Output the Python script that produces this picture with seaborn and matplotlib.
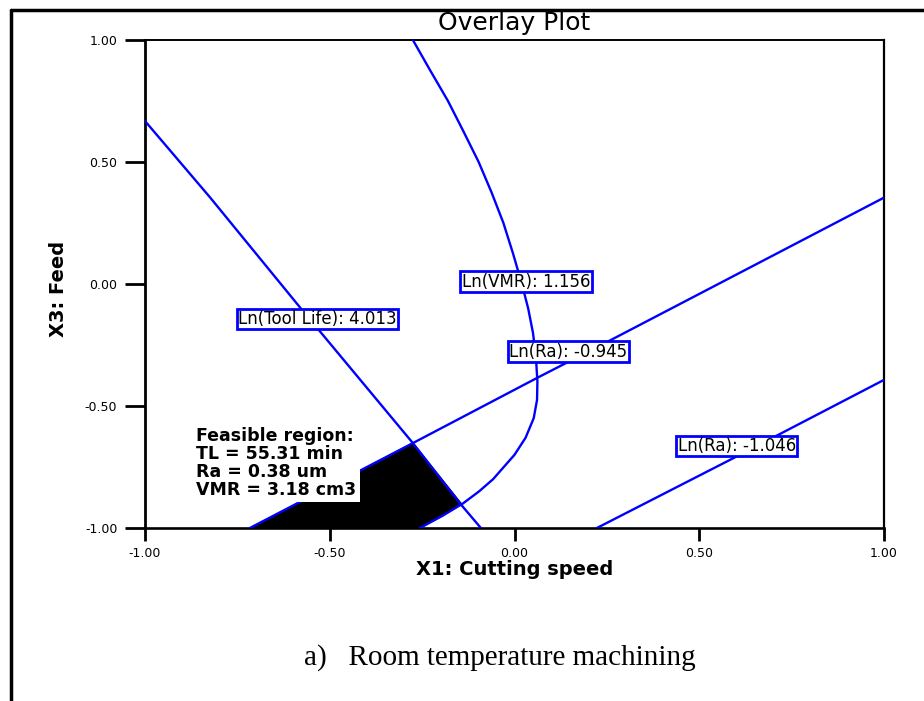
import matplotlib
matplotlib.use("Agg")
import matplotlib.pyplot as plt
import seaborn as sns
from matplotlib.lines import Line2D

# contour lines (coded units)
tool_life_x = [-1.0, -0.824, -0.581, -0.275, -0.147, -0.091]
tool_life_y = [0.668, 0.355, -0.095, -0.652, -0.900, -1.0]

vmr_x = [-0.275, -0.228, -0.180, -0.138, -0.097, -0.062, -0.030, -0.004, 0.020,
         0.037, 0.050, 0.058, 0.062, 0.061, 0.052, 0.030, 0.000, -0.058, -0.096, -0.140, -0.195, -0.256]
vmr_y = [1.0, 0.875, 0.75, 0.625, 0.5, 0.375, 0.25, 0.125, 0.0,
         -0.1, -0.2, -0.3, -0.4, -0.475, -0.55, -0.63, -0.7, -0.8, -0.85, -0.9, -0.95, -1.0]

ra1_x = [-0.716, -0.275, 0.061, 0.250, 1.0]
ra1_y = [-1.0, -0.652, -0.385, -0.238, 0.354]

ra2_x = [0.223, 0.610, 1.0]
ra2_y = [-1.0, -0.700, -0.393]

# feasible (black) region corners
region_x = [-0.716, -0.275, -0.143, -0.195, -0.256]
region_y = [-1.0, -0.652, -0.902, -0.95, -1.0]

# contour labels: text, x, y
labels = ["Ln(Tool Life): 4.013", "Ln(VMR): 1.156", "Ln(Ra): -0.945", "Ln(Ra): -1.046"]
label_x = [-0.533, 0.031, 0.146, 0.602]
label_y = [-0.143, 0.010, -0.277, -0.664]

ticks = [-1.0, -0.5, 0.0, 0.5, 1.0]
tick_labels = ["-1.00", "-0.50", "0.00", "0.50", "1.00"]

sns.set_style("white")
plt.rcParams["font.family"] = ["DejaVu Sans"]
plt.rcParams["text.color"] = "black"
plt.rcParams["axes.labelcolor"] = "black"
plt.rcParams["xtick.color"] = "black"
plt.rcParams["ytick.color"] = "black"

fig = plt.figure(figsize=(9.24, 7.01), dpi=100)
ax = fig.add_axes([145 / 924, 1 - 528 / 701, 739 / 924, 488 / 701])

ax.fill(region_x, region_y, color="black", zorder=2)

blue = "#0000ff"
for xs, ys in [(tool_life_x, tool_life_y), (vmr_x, vmr_y), (ra1_x, ra1_y), (ra2_x, ra2_y)]:
    sns.lineplot(x=xs, y=ys, sort=False, estimator=None, color=blue, lw=1.7, ax=ax, zorder=3)

for txt, lx, ly in zip(labels, label_x, label_y):
    ax.text(lx, ly, txt, ha="center", va="center", fontsize=12, color="black", zorder=5,
            bbox=dict(boxstyle="square,pad=0.08", facecolor="white", edgecolor=blue, linewidth=2))

ax.text(-0.862, -0.585, "Feasible region:\nTL = 55.31 min\nRa = 0.38 um\nVMR = 3.18 cm3",
        ha="left", va="top", fontsize=12.5, fontweight="bold", linespacing=1.0, zorder=6,
        bbox=dict(boxstyle="square,pad=0.2", facecolor="white", edgecolor="none"))

ax.set_xlim(-1, 1)
ax.set_ylim(-1, 1)
ax.set_xticks(ticks)
ax.set_xticklabels(tick_labels)
ax.set_yticks(ticks)
ax.set_yticklabels(tick_labels)
ax.tick_params(axis="y", length=14.4, width=2, pad=5.5, labelsize=9, direction="out", left=True)
ax.tick_params(axis="x", length=9.4, width=2, pad=4, labelsize=9, direction="out", bottom=True)

for side, w in [("left", 2.0), ("bottom", 1.9), ("top", 1.4), ("right", 1.6)]:
    ax.spines[side].set_visible(True)
    ax.spines[side].set_color("black")
    ax.spines[side].set_linewidth(w)

ax.set_title("Overlay Plot", fontsize=18, pad=7)
ax.set_xlabel("X1: Cutting speed", fontsize=14, fontweight="bold")
ax.set_ylabel("X3: Feed", fontsize=14, fontweight="bold")
ax.xaxis.set_label_coords(0.5, -0.066)
ax.yaxis.set_label_coords(-0.104, 0.49)

fig.text(500 / 924, 1 - 665 / 701, "a)   Room temperature machining", ha="center", va="baseline",
         fontsize=21, family=["Liberation Serif", "DejaVu Serif"])

# outer frame (left and top edges)
fig.add_artist(Line2D([11 / 924, 11 / 924], [0, 1 - 10 / 701], transform=fig.transFigure, color="black", lw=2.5))
fig.add_artist(Line2D([11 / 924, 1], [1 - 10 / 701, 1 - 10 / 701], transform=fig.transFigure, color="black", lw=2.5))

fig.savefig("out.png", dpi=100)
plt.close(fig)
